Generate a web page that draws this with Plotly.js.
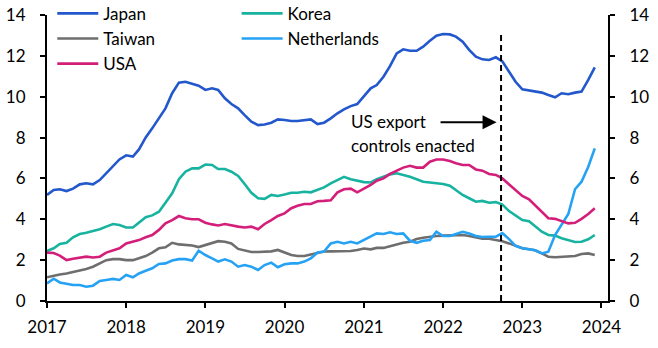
<!DOCTYPE html>
<html>
<head>
<meta charset="utf-8">
<script src="https://cdn.plot.ly/plotly-3.0.1.min.js"></script>
<style>
  html, body { margin: 0; padding: 0; background: #fff; }
  #chart { width: 658px; height: 348px; }
</style>
</head>
<body>
<div id="chart"></div>
<script>
// Monthly observations, Jan 2017 – Dec 2023
const months = [];
for (let y = 2017; y <= 2023; y++) {
  for (let m = 1; m <= 12; m++) months.push(y + '-' + String(m).padStart(2, '0') + '-01');
}

const japan = [
  5.19, 5.43, 5.47, 5.38, 5.50, 5.71, 5.76, 5.71, 5.92, 6.25, 6.61, 6.93,
  7.13, 7.07, 7.42, 8.01, 8.45, 8.94, 9.43, 10.17, 10.69, 10.73, 10.65, 10.54,
  10.33, 10.41, 10.33, 9.92, 9.64, 9.43, 9.10, 8.78, 8.61, 8.64, 8.73, 8.89,
  8.86, 8.81, 8.81, 8.86, 8.89, 8.66, 8.73, 8.94, 9.19, 9.38, 9.54, 9.64,
  10.05, 10.41, 10.57, 10.98, 11.50, 12.12, 12.32, 12.25, 12.25, 12.45, 12.74, 12.99,
  13.07, 13.05, 12.94, 12.69, 12.29, 11.96, 11.83, 11.80, 11.93, 11.73, 11.22, 10.73,
  10.36, 10.30, 10.25, 10.20, 10.08, 9.97, 10.17, 10.12, 10.20, 10.25, 10.82, 11.44
];
const korea = [
  2.45, 2.58, 2.79, 2.85, 3.12, 3.28, 3.34, 3.43, 3.51, 3.64, 3.77, 3.72,
  3.60, 3.60, 3.83, 4.10, 4.19, 4.37, 4.81, 5.27, 5.96, 6.33, 6.49, 6.49,
  6.68, 6.66, 6.46, 6.46, 6.33, 6.12, 5.73, 5.30, 5.03, 5.00, 5.19, 5.14,
  5.21, 5.30, 5.30, 5.35, 5.32, 5.43, 5.56, 5.76, 5.92, 6.08, 5.96, 5.89,
  5.82, 5.80, 5.96, 6.08, 6.20, 6.25, 6.17, 6.08, 5.96, 5.84, 5.80, 5.76,
  5.73, 5.64, 5.43, 5.19, 5.03, 4.86, 4.90, 4.81, 4.84, 4.72, 4.40, 4.17,
  3.96, 3.90, 3.64, 3.39, 3.23, 3.20, 3.07, 2.99, 2.89, 2.90, 3.02, 3.23
];
const taiwan = [
  1.16, 1.24, 1.30, 1.35, 1.42, 1.48, 1.57, 1.68, 1.84, 2.00, 2.05, 2.05,
  2.00, 2.00, 2.09, 2.20, 2.37, 2.58, 2.63, 2.85, 2.77, 2.74, 2.72, 2.64,
  2.74, 2.87, 2.93, 2.90, 2.82, 2.55, 2.47, 2.40, 2.40, 2.40, 2.43, 2.50,
  2.37, 2.25, 2.20, 2.20, 2.28, 2.37, 2.42, 2.43, 2.43, 2.45, 2.45, 2.50,
  2.57, 2.53, 2.60, 2.60, 2.69, 2.79, 2.85, 2.90, 3.03, 3.10, 3.15, 3.18,
  3.20, 3.20, 3.23, 3.23, 3.18, 3.10, 3.05, 3.05, 2.99, 2.92, 2.82, 2.72,
  2.58, 2.53, 2.48, 2.33, 2.17, 2.14, 2.17, 2.20, 2.20, 2.30, 2.33, 2.25
];
const netherlands = [
  0.86, 1.09, 0.91, 0.86, 0.78, 0.78, 0.70, 0.75, 0.98, 1.03, 1.08, 1.03,
  1.27, 1.16, 1.35, 1.48, 1.60, 1.81, 1.84, 1.98, 2.05, 2.05, 1.98, 2.46,
  2.25, 2.09, 1.93, 2.04, 1.93, 1.68, 1.76, 1.68, 1.52, 1.76, 1.88, 1.65,
  1.80, 1.84, 1.84, 1.93, 2.09, 2.37, 2.42, 2.82, 2.90, 2.82, 2.90, 2.82,
  2.98, 3.18, 3.31, 3.28, 3.36, 3.28, 3.31, 2.95, 2.85, 2.95, 2.99, 3.39,
  3.18, 3.18, 3.28, 3.39, 3.31, 3.18, 3.13, 3.15, 3.15, 3.32, 3.03, 2.70,
  2.58, 2.53, 2.48, 2.33, 2.41, 3.23, 3.72, 4.26, 5.47, 5.84, 6.57, 7.47
];
const usa = [
  2.37, 2.35, 2.22, 2.00, 2.07, 2.13, 2.17, 2.13, 2.17, 2.37, 2.46, 2.58,
  2.82, 2.90, 2.98, 3.12, 3.23, 3.48, 3.80, 3.96, 4.16, 4.05, 4.00, 4.00,
  3.83, 3.75, 3.70, 3.77, 3.69, 3.64, 3.60, 3.64, 3.51, 3.77, 3.96, 4.16,
  4.29, 4.54, 4.66, 4.75, 4.75, 4.88, 4.90, 4.93, 5.32, 5.47, 5.50, 5.32,
  5.50, 5.68, 5.89, 6.00, 6.22, 6.38, 6.53, 6.62, 6.53, 6.53, 6.82, 6.93,
  6.93, 6.85, 6.74, 6.66, 6.66, 6.44, 6.38, 6.22, 6.17, 6.00, 5.70, 5.45,
  5.14, 4.98, 4.70, 4.37, 4.05, 4.02, 3.93, 3.80, 3.83, 4.02, 4.26, 4.54
];

const yTicks = [0, 2, 4, 6, 8, 10, 12, 14];
const xTickVals = ['2017-01-01','2018-01-01','2019-01-01','2020-01-01','2021-01-01','2022-01-01','2023-01-01','2024-01-01'];
const xTickText = ['2017','2018','2019','2020','2021','2022','2023','2024'];
const eventDate = '2022-09-25';
const eventLabel = ['US export', 'controls enacted'];

const FONT = 'Lato, "Open Sans", sans-serif';
const FS = 17;
const LW = 2.6;

function series(name, y, color, legend) {
  return {
    type: 'scatter', mode: 'lines', name: name, x: months, y: y,
    line: { color: color, width: LW },
    legend: legend, legendgroup: name, hoverinfo: 'skip'
  };
}

const traces = [
  series('Japan', japan, '#2357cc', 'legend'),
  series('Korea', korea, '#17b3a0', 'legend2'),
  series('Taiwan', taiwan, '#6e6e6e', 'legend'),
  series('Netherlands', netherlands, '#26a2f5', 'legend2'),
  series('USA', usa, '#d41f7a', 'legend'),
  { type: 'scatter', mode: 'lines', x: [months[0]], y: [null], yaxis: 'y2', showlegend: false, hoverinfo: 'skip' }
];

const axisCommon = {
  showline: true, linecolor: '#000', linewidth: 2,
  ticks: 'outside', ticklen: 5, tickwidth: 2, tickcolor: '#000',
  showgrid: false, zeroline: false,
  tickfont: { family: FONT, size: FS, color: '#000' }
};

const legendCommon = {
  font: { family: FONT, size: FS, color: '#000' },
  bgcolor: 'rgba(0,0,0,0)', borderwidth: 0,
  itemwidth: 41, tracegroupgap: 3,
  xref: 'paper', yref: 'paper', xanchor: 'left', yanchor: 'top',
  orientation: 'v', traceorder: 'normal'
};

const layout = {
  width: 658, height: 348,
  margin: { l: 47, r: 50, t: 15, b: 47, autoexpand: false },
  paper_bgcolor: '#fff', plot_bgcolor: '#fff',
  font: { family: FONT, size: FS, color: '#000' },
  showlegend: true,
  legend: Object.assign({}, legendCommon, { x: 0.0094, y: 1.067 }),
  legend2: Object.assign({}, legendCommon, { x: 0.338, y: 1.067 }),
  xaxis: Object.assign({}, axisCommon, {
    type: 'date', range: ['2017-01-01', '2024-01-31'],
    tickmode: 'array', tickvals: xTickVals, ticktext: xTickText,
    ticklabelstandoff: 5
  }),
  yaxis: Object.assign({}, axisCommon, {
    range: [0, 14], tickmode: 'array', tickvals: yTicks, ticklabelstandoff: 11
  }),
  yaxis2: Object.assign({}, axisCommon, {
    range: [0, 14], tickmode: 'array', tickvals: yTicks,
    overlaying: 'y', side: 'right', ticklabelstandoff: 11
  }),
  shapes: [{
    type: 'line', xref: 'x', yref: 'y', x0: eventDate, x1: eventDate, y0: 0, y1: 13.1,
    line: { color: '#000', width: 2, dash: '6px,4px' }
  }],
  annotations: [
    { xref: 'x', yref: 'y', x: '2020-10-25', y: 8.79, xanchor: 'left', yanchor: 'middle',
      text: eventLabel[0], showarrow: false, font: { family: FONT, size: FS, color: '#000' } },
    { xref: 'x', yref: 'y', x: '2020-10-25', y: 7.59, xanchor: 'left', yanchor: 'middle',
      text: eventLabel[1], showarrow: false, font: { family: FONT, size: FS, color: '#000' } },
    { xref: 'x', yref: 'y', x: eventDate, y: 8.75, xshift: -4.5, text: '', showarrow: true,
      ax: -57.5, ay: 0, arrowhead: 2, arrowsize: 1.4, arrowwidth: 2, arrowcolor: '#000' }
  ]
};

Plotly.newPlot('chart', traces, layout, { staticPlot: true, displayModeBar: false });
</script>
</body>
</html>
